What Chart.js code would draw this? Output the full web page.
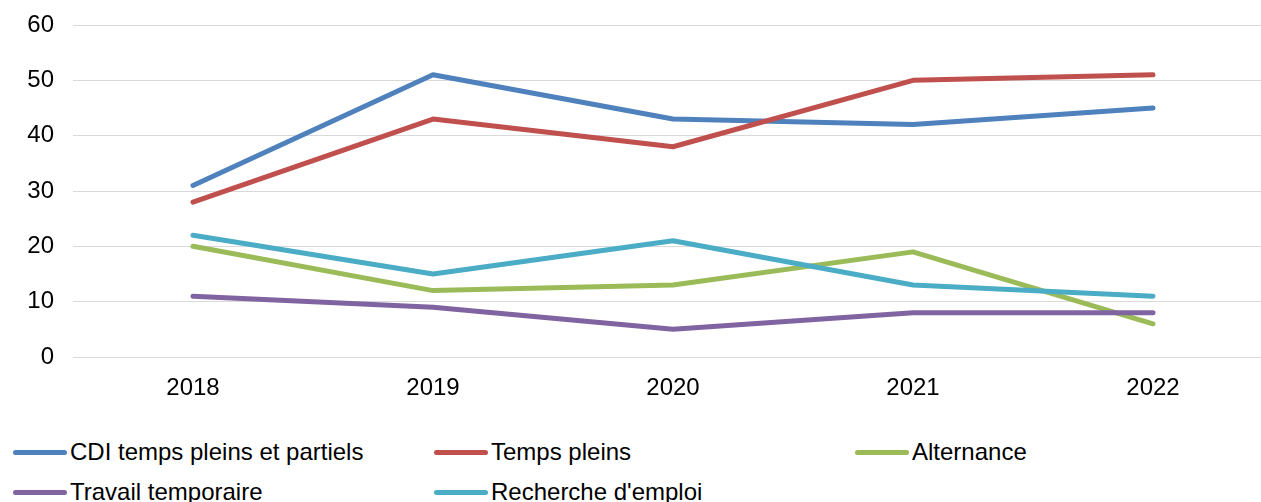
<!DOCTYPE html>
<html>
<head>
<meta charset="utf-8">
<script src="https://cdn.jsdelivr.net/npm/chart.js@4/dist/chart.umd.min.js"></script>
<style>
  html, body { margin: 0; padding: 0; background: #fff; }
  #wrap { position: relative; width: 1261px; height: 502px; overflow: hidden; }
  #c { position: absolute; left: 0; top: 0; }
  .lg { position: absolute; font-family: "Liberation Sans", Arial, sans-serif; font-size: 24px; line-height: 28px; color: #000; white-space: nowrap; }
  .sw { position: absolute; width: 54px; height: 5px; border-radius: 2.5px; }
</style>
</head>
<body>
<div id="wrap">
  <canvas id="c" width="1273" height="410"></canvas>
  <div id="legend"></div>
</div>
<script>
const categories = ['2018', '2019', '2020', '2021', '2022'];
const seriesNames = ['CDI temps pleins et partiels', 'Temps pleins', 'Alternance', 'Travail temporaire', "Recherche d'emploi"];
const cdiValues = [31, 51, 43, 42, 45];
const tempsPleinsValues = [28, 43, 38, 50, 51];
const alternanceValues = [20, 12, 13, 19, 6];
const travailTempValues = [11, 9, 5, 8, 8];
const rechercheValues = [22, 15, 21, 13, 11];
const yTicks = [0, 10, 20, 30, 40, 50, 60];

const colors = ['#4F81BD', '#C0504D', '#9BBB59', '#8064A2', '#4BACC6'];
const allValues = [cdiValues, tempsPleinsValues, alternanceValues, travailTempValues, rechercheValues];
const FONT = '"Liberation Sans", Arial, sans-serif';

const datasets = allValues.map((vals, i) => ({
  label: seriesNames[i],
  data: vals,
  borderColor: colors[i],
  backgroundColor: colors[i],
  borderWidth: 5,
  pointRadius: 0,
  pointHoverRadius: 0,
  tension: 0,
  fill: false,
  borderCapStyle: 'round',
  borderJoinStyle: 'round',
  order: allValues.length - i
}));

new Chart(document.getElementById('c'), {
  type: 'line',
  data: { labels: categories, datasets },
  options: {
    responsive: false,
    animation: false,
    devicePixelRatio: 1,
    layout: { padding: { top: 25, left: 0, right: 0, bottom: 0 } },
    plugins: { legend: { display: false }, tooltip: { enabled: false } },
    scales: {
      x: {
        offset: true,
        grid: { display: false },
        border: { display: false },
        ticks: { color: '#000', font: { family: FONT, size: 24 }, padding: 9, maxRotation: 0 },
        afterFit: (s) => { s.height = 53; s.paddingLeft = 0; s.paddingRight = 0; }
      },
      y: {
        min: 0, max: 60,
        afterBuildTicks: (s) => { s.ticks = yTicks.map(v => ({ value: v })); },
        grid: { color: '#d9d9d9', lineWidth: 1, drawTicks: false },
        border: { display: false },
        ticks: { color: '#000', font: { family: FONT, size: 24 }, padding: 19 },
        afterFit: (s) => { s.width = 73; s.paddingTop = 0; s.paddingBottom = 0; }
      }
    }
  }
});

// Legend (HTML)
const legend = document.getElementById('legend');
const colX = [13, 434, 855];
const rowY = [452, 492];
seriesNames.forEach((name, i) => {
  const col = i % 3, row = Math.floor(i / 3);
  const sw = document.createElement('div');
  sw.className = 'sw';
  sw.style.left = colX[col] + 'px';
  sw.style.top = (rowY[row] - 2.5) + 'px';
  sw.style.background = colors[i];
  legend.appendChild(sw);
  const t = document.createElement('div');
  t.className = 'lg';
  t.style.left = (colX[col] + 57) + 'px';
  t.style.top = (rowY[row] - 14) + 'px';
  t.textContent = name;
  legend.appendChild(t);
});
</script>
</body>
</html>
